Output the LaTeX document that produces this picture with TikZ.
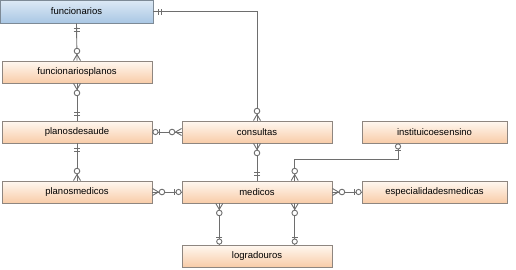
\documentclass[tikz,border=0pt]{standalone}
\usepackage{fontspec}
\newfontfamily\erfont{Liberation Sans}
\definecolor{ERtop}{HTML}{FFF8F1}
\definecolor{ERbottom}{HTML}{F8CCA8}
\definecolor{ERedge}{HTML}{8E8680}
\definecolor{ERbluetop}{HTML}{DDE9F5}
\definecolor{ERbluebottom}{HTML}{A9C7E4}
\definecolor{ERblueedge}{HTML}{7D8A96}
\definecolor{ERline}{HTML}{6E6E6E}
\usetikzlibrary{calc}

\tikzset{
   entity/.style={draw=ERedge, line width=0.9pt, top color=ERtop, bottom color=ERbottom,
      minimum width=150pt, minimum height=22pt, inner sep=0pt,
      font=\erfont\fontsize{9.5}{11}\selectfont},
   selected/.style={draw=ERblueedge, top color=ERbluetop, bottom color=ERbluebottom},
   conn/.style={ERline, line width=0.9pt},
   % one and only one
   mand/.pic={\draw[conn] (5,-3) -- (5,3) (8,-3) -- (8,3);},
   % zero or one
   zone/.pic={\draw[conn] (7,-3) -- (7,3); \draw[conn, fill=white] (3,0) circle (2.6);},
   % zero or many
   zmany/.pic={\draw[conn] (0,-3.5) -- (6,0) -- (0,3.5); \draw[conn, fill=white] (9.5,0) circle (2.8);}
}

\begin{document}
\begin{tikzpicture}[x=1pt, y=1pt]
   \useasboundingbox (0,0) rectangle (516,269);
   % Entities
   \node[entity, selected, minimum width=153pt, minimum height=23pt] (funcionarios) at (76.5,257.5) {funcionarios};
   \node[entity] (funcionariosplanos) at (77,197) {funcionariosplanos};
   \node[entity] (planosdesaude) at (77,137) {planosdesaude};
   \node[entity] (consultas) at (257,137) {consultas};
   \node[entity, minimum width=145pt] (instituicoesensino) at (434.5,137) {instituicoesensino};
   \node[entity] (planosmedicos) at (77,77) {planosmedicos};
   \node[entity] (medicos) at (257,77) {medicos};
   \node[entity, minimum width=145pt] (especialidadesmedicas) at (434.5,77) {especialidadesmedicas};
   \node[entity] (logradouros) at (257,13) {logradouros};

   % Attachment points
   \coordinate (inst-b) at ($(instituicoesensino.south west)!0.25!(instituicoesensino.south east)$);
   \coordinate (med-t2) at ($(medicos.north west)!0.75!(medicos.north east)$);
   \coordinate (med-b1) at ($(medicos.south west)!0.25!(medicos.south east)$);
   \coordinate (med-b2) at ($(medicos.south west)!0.75!(medicos.south east)$);
   \coordinate (log-t1) at ($(logradouros.north west)!0.25!(logradouros.north east)$);
   \coordinate (log-t2) at ($(logradouros.north west)!0.75!(logradouros.north east)$);

   % Relationships
   \draw[conn] (funcionarios.south) -- (funcionariosplanos.north);
   \draw[conn] (funcionariosplanos.south) -- (planosdesaude.north);
   \draw[conn] (funcionarios.east) -| (consultas.north);
   \draw[conn] (planosdesaude.east) -- (consultas.west);
   \draw[conn] (planosdesaude.south) -- (planosmedicos.north);
   \draw[conn] (consultas.south) -- (medicos.north);
   \draw[conn] (planosmedicos.east) -- (medicos.west);
   \draw[conn] (inst-b) -- ++(0,-16) -| (med-t2);
   \draw[conn] (medicos.east) -- (especialidadesmedicas.west);
   \draw[conn] (med-b1) -- (log-t1);
   \draw[conn] (med-b2) -- (log-t2);

   % Cardinality marks
   \pic[rotate=-90] at (funcionarios.south) {mand};
   \pic[rotate=90] at (funcionariosplanos.north) {zmany};
   \pic[rotate=-90] at (funcionariosplanos.south) {zmany};
   \pic[rotate=90] at (planosdesaude.north) {mand};
   \pic at (funcionarios.east) {mand};
   \pic[rotate=90] at (consultas.north) {zmany};
   \pic at (planosdesaude.east) {zone};
   \pic[rotate=180] at (consultas.west) {zmany};
   \pic[rotate=-90] at (planosdesaude.south) {mand};
   \pic[rotate=90] at (planosmedicos.north) {zmany};
   \pic[rotate=-90] at (consultas.south) {zmany};
   \pic[rotate=90] at (medicos.north) {mand};
   \pic at (planosmedicos.east) {zmany};
   \pic[rotate=180] at (medicos.west) {zone};
   \pic[rotate=-90] at (inst-b) {zone};
   \pic[rotate=90] at (med-t2) {zmany};
   \pic at (medicos.east) {zmany};
   \pic[rotate=180] at (especialidadesmedicas.west) {zone};
   \pic[rotate=-90] at (med-b1) {zmany};
   \pic[rotate=90] at (log-t1) {zone};
   \pic[rotate=-90] at (med-b2) {zmany};
   \pic[rotate=90] at (log-t2) {zone};
\end{tikzpicture}
\end{document}
